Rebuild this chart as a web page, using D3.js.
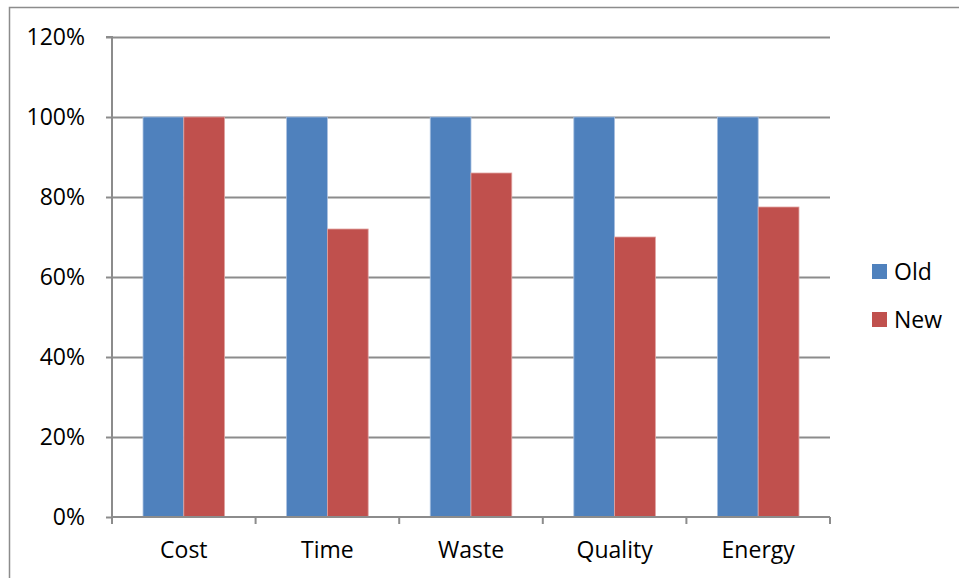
<!DOCTYPE html>
<html><head><meta charset="utf-8">
<script src="https://cdn.jsdelivr.net/npm/d3@7"></script>
<style>body{margin:0;background:#fff}svg{display:block}text{font-family:"Open Sans","Noto Sans",sans-serif;fill:#000}</style>
</head><body><svg id="c" width="959" height="578"></svg>
<script>
const categories = ["Cost","Time","Waste","Quality","Energy"];
const seriesNames = ["Old","New"];
const oldValues = [1.00,1.00,1.00,1.00,1.00];
const newValues = [1.00,0.72,0.86,0.70,0.775];
const yTicks = [0,0.2,0.4,0.6,0.8,1.0,1.2];
const colors = ["#4F81BD","#C0504D"];
const strokes = ["#a9c0e0","#e0a3a1"];

const svg = d3.select("#c");
svg.append("rect").attr("x",9.5).attr("y",7.5).attr("width",1000).attr("height",1000)
  .attr("fill","none").attr("stroke","#8c8c8c").attr("stroke-width",1.5);

const L=112,R=830,T=37,B=517;
const FS = 23;
const y = d3.scaleLinear().domain([0,1.2]).range([B,T]);
const x0 = d3.scaleBand().domain(categories).range([L,R]).padding(0);
const x1 = d3.scaleBand().domain(seriesNames)
  .range([x0.bandwidth()*0.216, x0.bandwidth()*0.784]).padding(0);

svg.append("g").selectAll("line").data(yTicks.filter(d=>d>0)).join("line")
  .attr("x1",L).attr("x2",R).attr("y1",d=>Math.round(y(d))+0.5).attr("y2",d=>Math.round(y(d))+0.5)
  .attr("stroke","#8c8c8c").attr("stroke-width",2);

const data = categories.map((c,i)=>({c, vals:[oldValues[i],newValues[i]]}));
const g = svg.append("g").selectAll("g").data(data).join("g")
  .attr("transform",d=>`translate(${x0(d.c)},0)`);
g.selectAll("rect").data(d=>d.vals.map((v,j)=>({s:seriesNames[j],v,j}))).join("rect")
  .attr("x",d=>x1(d.s)).attr("width",x1.bandwidth())
  .attr("y",d=>y(d.v)).attr("height",d=>B-y(d.v))
  .attr("fill",d=>colors[d.j]).attr("stroke",d=>strokes[d.j]).attr("stroke-width",0.8);

const ya = svg.append("g").attr("transform",`translate(${L},0)`)
  .call(d3.axisLeft(y).tickValues(yTicks).tickFormat(d3.format(".0%")).tickSize(6).tickPadding(21));
ya.attr("font-size",FS).attr("font-family",null);
ya.select(".domain").attr("stroke","#8c8c8c").attr("stroke-width",2).attr("d",`M-6,${T}H0V${B}`);
ya.selectAll(".tick line").attr("stroke","#8c8c8c").attr("stroke-width",2);
ya.selectAll(".tick text").attr("fill","#000");

const xa = svg.append("g").attr("transform",`translate(0,${B})`)
  .call(d3.axisBottom(x0).tickSize(0).tickPadding(25));
xa.attr("font-size",FS).attr("font-family",null);
xa.select(".domain").attr("stroke","#8c8c8c").attr("stroke-width",2).attr("d",`M${L},0H${R}`);
xa.selectAll(".tick text").attr("fill","#000");
const bounds = categories.map(c=>x0(c)).concat([R]);
svg.append("g").selectAll("line").data(bounds).join("line")
  .attr("x1",d=>d).attr("x2",d=>d).attr("y1",B).attr("y2",B+7)
  .attr("stroke","#8c8c8c").attr("stroke-width",2);

const lg = svg.append("g").selectAll("g").data(seriesNames).join("g")
  .attr("transform",(d,i)=>`translate(872,${264+i*48})`);
lg.append("rect").attr("width",15).attr("height",15).attr("fill",(d,i)=>colors[i]);
lg.append("text").attr("x",22).attr("y",7.5).attr("dy","0.35em").attr("font-size",FS).text(d=>d);
</script></body></html>
